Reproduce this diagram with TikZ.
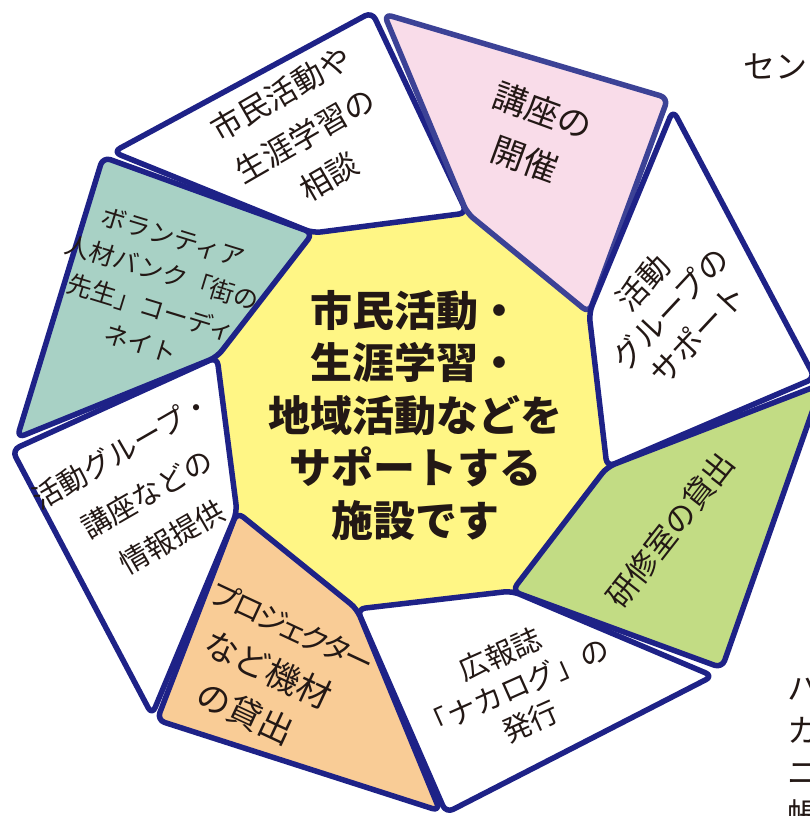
\documentclass[tikz,border=0pt]{standalone}
\usepackage{fontspec}
\setmainfont{Noto Sans CJK JP}
\definecolor{navy}{HTML}{1E2287}
\definecolor{navysoft}{HTML}{3C4296}
\definecolor{ink}{HTML}{231815}
\definecolor{hubyellow}{HTML}{FFF685}
\definecolor{segpink}{HTML}{F9DCE9}
\definecolor{segteal}{HTML}{A8D1C5}
\definecolor{seggreen}{HTML}{C2DC84}
\definecolor{segorange}{HTML}{F9CC96}
\newcommand\katakern{\kern-3pt}
\tikzset
{
    segment/.style = {draw=navy, line width=5.5pt, line join=round, rounded corners=8pt, fill=white},
    seglabel/.style 2 args = {text=ink, align=center, inner sep=0pt, font=\fontsize{#1}{#2}\selectfont},
    hubtext/.style = {text=ink, align=center, inner sep=0pt, font=\bfseries\fontsize{42}{52.5}\selectfont},
    fragment/.style = {text=ink, align=left, inner sep=0pt, font=\fontsize{32}{42}\selectfont}
}
\begin{document}
\begin{tikzpicture}[x=1pt, y=-1pt]
\useasboundingbox (0,0) rectangle (810,816);
\clip (0,0) rectangle (810,816);
\coordinate (A) at (313,233);
\coordinate (B) at (467,213);
\coordinate (C) at (589,313);
\coordinate (D) at (607,467);
\coordinate (E) at (512,591);
\coordinate (F) at (357,609);
\coordinate (G) at (237,512);
\coordinate (H) at (217,357);
\fill[hubyellow] (A) -- (B) -- (C) -- (D) -- (E) -- (F) -- (G) -- (H) -- cycle;
\draw[segment] (A) -- (113,152) -- (372,12) -- (B) -- cycle;
\draw[segment, fill=segpink, draw=navysoft] (B) -- (384,14) -- (668,98) -- (C) -- cycle;
\draw[segment] (C) -- (673,110) -- (815,378) -- (D) -- cycle;
\draw[segment, fill=seggreen] (D) -- (822,384) -- (722,668) -- (E) -- cycle;
\draw[segment] (E) -- (713,676) -- (446,813) -- (F) -- cycle;
\draw[segment, fill=segorange] (F) -- (G) -- (157,720) -- (440,811) -- cycle;
\draw[segment] (G) -- (152,715) -- (12,450) -- (H) -- cycle;
\draw[segment, fill=segteal] (H) -- (17,438) -- (103,157) -- (A) -- cycle;
\node[hubtext] (hub) at (415,415) {市民活動・\\生涯学習・\\地域活動などを\\サポートする\\施設です};
\node[seglabel={31}{48}, rotate=30] (consult) at (305,135) {市民活動や\\生涯学習の\\相談};
\node[seglabel={34}{51}, rotate=-20] (course) at (534,135) {講座の\\開催};
\node[seglabel={31}{38}, rotate=47] (groupsupport) at (670,308) {活動\\グループの\\サポート};
\node[seglabel={31}{40}, rotate=52] (roomrental) at (670,530) {研修室の貸出};
\node[seglabel={29}{37}, rotate=24] (newsletter) at (515,688) {広報誌\\「ナカログ」の\\発行};
\node[seglabel={34}{49}, rotate=-25, align=left, anchor=west] (equipment) at (192,636) {{\fontsize{30}{49}\selectfont\addfontfeatures{RawFeature=+palt}プ\katakern ロ\katakern ジ\katakern ェ\katakern ク\katakern タ\katakern ー}\\\hspace*{15pt}など機材\\\hspace*{30pt}の貸出};
\node[seglabel={29}{50}, rotate=30] (info) at (147,494) {活動グループ・\\講座などの\\情報提供};
\node[seglabel={25}{37}, rotate=-17] (volunteer) at (157,290) {ボランティア\\人材バンク「街の\\先生」コーディ\\ネイト};
\node[fragment, anchor=west] (toptail) at (743,66) {セン};
\node[fragment, anchor=north west] (sidetail) at (787,678) {ハ\\カ\\ニ\\帳};
\end{tikzpicture}
\end{document}
